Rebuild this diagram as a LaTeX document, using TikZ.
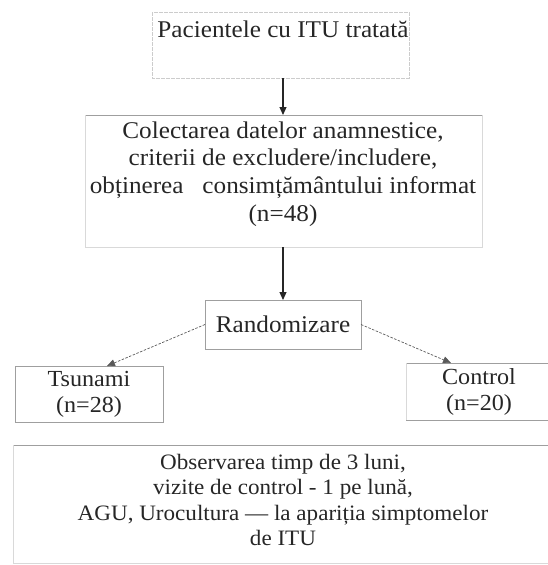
\documentclass[tikz,border=0pt]{standalone}
\usepackage{fontspec}
\setmainfont{Liberation Serif}[FakeStretch=1.05]
\usetikzlibrary{arrows.meta}
\begin{document}
\begin{tikzpicture}[x=1pt,y=-1pt,
  box/.style={inner sep=0pt, outer sep=0pt},
  bigtxt/.style={font=\fontsize{24}{27.7}\selectfont, align=center, text=black!85, inner sep=0pt},
  midtxt/.style={font=\fontsize{23}{26}\selectfont, align=center, text=black!85, inner sep=0pt},
  lowtxt/.style={font=\fontsize{22}{25.5}\selectfont, align=center, text=black!85, inner sep=0pt},
  darkedge/.style={draw=gray!75, line width=0.7pt},
  lightedge/.style={draw=gray!30, line width=0.7pt},
  solidarrow/.style={-{Triangle[length=8pt,width=7pt]}, line width=1.1pt, black!85},
  dasharrow/.style={-{Triangle[length=8pt,width=7pt]}, dash pattern=on 2.5pt off 1.5pt, line width=0.7pt, gray!70!black}]
\useasboundingbox (0,0) rectangle (548,565);
% box 1
\node[box, minimum width=257pt, minimum height=66pt, anchor=north west] (b1) at (152,12) {};
\draw[draw=gray!40, line width=0.7pt, dash pattern=on 4pt off 1pt] (b1.north west) rectangle (b1.south east);
\node[bigtxt] (t1) at (283,29) {Pacientele cu ITU tratată};
% box 2
\node[box, minimum width=397pt, minimum height=132pt, anchor=north west] (b2) at (85,115) {};
\draw[darkedge] (b2.north west) -- (b2.north east);
\draw[lightedge] (b2.north east) -- (b2.south east) -- (b2.south west) -- (b2.north west);
\node[bigtxt] (t2) at (283,174) {Colectarea datelor anamnestice,\\criterii de excludere/includere,\\obținerea\ \ \ consimțământului informat\\(n=48)};
% randomizare
\node[box, darkedge, minimum width=156pt, minimum height=49pt, anchor=north west, bigtxt] (r) at (205,300) {Randomizare};
% groups
\node[box, darkedge, minimum width=148pt, minimum height=56pt, anchor=north west] (ts) at (15,366) {};
\node[midtxt] (tts) at (ts.center) {Tsunami\\(n=28)};
\node[box, minimum width=142pt, minimum height=57pt, anchor=north west] (c) at (406,363) {};
\draw[darkedge] (c.north east) -- (c.north west);
\draw[lightedge] (c.north west) -- (c.south west);
\draw[darkedge] (c.south west) -- (c.south east);
\node[midtxt] (tc) at (479,392) {Control\\(n=20)};
% bottom box
\node[box, minimum width=535pt, minimum height=118pt, anchor=north west] (b3) at (13,445) {};
\draw[darkedge] (b3.north west) -- (b3.north east);
\draw[lightedge] (b3.north west) -- (b3.south west) -- (b3.south east);
\node[lowtxt] (t3) at (283,500) {Observarea timp de 3 luni,\\vizite de control - 1 pe lună,\\AGU, Urocultura — la apariția simptomelor\\de ITU};
% arrows
\draw[solidarrow] (b1.south -| 283,0) -- (b2.north -| 283,0);
\draw[solidarrow] (b2.south -| 283,0) -- (r.north -| 283,0);
\draw[dasharrow] (r.west) -- (ts.north -| 107,0);
\draw[dasharrow] (r.east) -- (c.north -| 451,0);
\end{tikzpicture}
\end{document}
